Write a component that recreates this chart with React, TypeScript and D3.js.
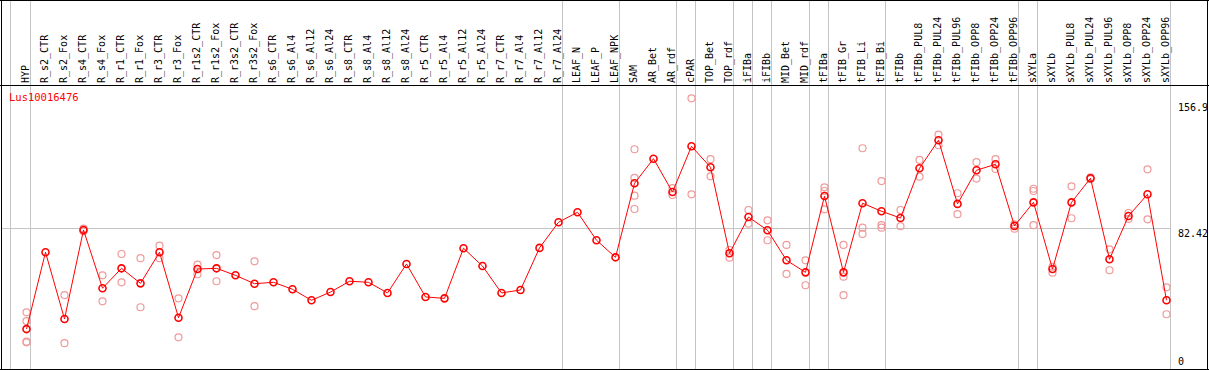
import { useRef, useEffect } from "react";
import * as d3 from "d3";

// sample names, left to right
const categories = [
  "HYP", "R_s2_CTR", "R_s2_Fox", "R_s4_CTR", "R_s4_Fox", "R_r1_CTR", "R_r1_Fox",
  "R_r3_CTR", "R_r3_Fox", "R_r1s2_CTR", "R_r1s2_Fox", "R_r3s2_CTR", "R_r3s2_Fox",
  "R_s6_CTR", "R_s6_Al4", "R_s6_Al12", "R_s6_Al24", "R_s8_CTR", "R_s8_Al4",
  "R_s8_Al12", "R_s8_Al24", "R_r5_CTR", "R_r5_Al4", "R_r5_Al12", "R_r5_Al24",
  "R_r7_CTR", "R_r7_Al4", "R_r7_Al12", "R_r7_Al24", "LEAF_N", "LEAF_P", "LEAF_NPK",
  "SAM", "AR_Bet", "AR_rdf", "cPAR", "TOP_Bet", "TOP_rdf", "iFIBa", "iFIBb",
  "MID_Bet", "MID_rdf", "tFIBa", "tFIB_Gr", "tFIB_Li", "tFIB_Bi", "tFIBb",
  "tFIBb_PUL8", "tFIBb_PUL24", "tFIBb_PUL96", "tFIBb_OPP8", "tFIBb_OPP24",
  "tFIBb_OPP96", "sXYLa", "sXYLb", "sXYLb_PUL8", "sXYLb_PUL24", "sXYLb_PUL96",
  "sXYLb_OPP8", "sXYLb_OPP24", "sXYLb_OPP96",
];

// mean expression per sample
const means = [
  24.7, 68.7, 30.5, 81.5, 48.1, 59.5, 50.9, 68.7, 31.2, 59.1, 59.5, 55.5, 50.7,
  51.5, 47.5, 41.2, 45.9, 52.1, 51.5, 45.4, 62.0, 43.1, 42.3, 71.0, 60.8,
  45.4, 47.1, 71.2, 85.9, 91.6, 75.6, 65.8,
  108.2, 122.3, 103.2, 129.4, 117.4, 68.1, 88.9, 81.3, 64.1, 57.2,
  100.9, 57.2, 96.8, 92.2, 88.3, 116.8, 132.9, 96.4, 115.7, 119.1, 83.8,
  97.3, 59.1, 97.3, 111.1, 64.7, 89.5, 101.9, 41.2,
];

// single replicates per sample
const replicates = [
  [34.3, 29.3, 17.5, 17.1], [], [44.2, 16.6], [80.8, 82.2], [55.5, 40.6],
  [67.7, 51.5], [65.3, 37.2], [72.5, 65.3], [42.3, 20.0], [61.6, 56.1],
  [67.1, 52.1], [], [63.5, 37.8],
  [], [], [], [], [], [], [], [], [], [], [], [],
  [], [], [], [], [], [], [],
  [127.7, 111.3, 101.1, 93.5], [], [105.4, 101.5], [156.9, 101.9],
  [122.0, 112.2], [70.0, 65.6], [92.9, 85.1], [87.0, 75.6], [72.9, 56.3],
  [64.1, 49.8],
  [105.9, 103.8, 93.3], [72.9, 54.7, 44.1], [128.3, 82.8, 79.2],
  [109.5, 84.3, 82.8], [92.9, 83.6], [121.6, 112.0], [136.1, 130.0],
  [102.5, 90.5], [120.3, 110.9], [122.0, 116.4], [84.7, 82.2],
  [105.1, 103.8, 84.2], [60.4, 57.0], [106.5, 88.2], [110.6, 111.6],
  [70.4, 58.4], [91.2, 87.8], [116.2, 87.6], [48.6, 33.2],
];

// group separators are drawn after these samples
const groupEnds = [
  "HYP", "R_r7_Al24", "LEAF_NPK", "AR_rdf", "cPAR", "TOP_rdf", "iFIBa",
  "iFIBb", "MID_rdf", "tFIBa", "tFIB_Bi", "tFIBb_OPP96", "sXYLa", "sXYLb_OPP96",
];

const yTickValues = [0, 82.42, 156.9];
const geneId = "Lus10016476";

const width = 1209;
const height = 370;
const font = "'DejaVu Sans Mono', monospace";

const App = () => {
  const svgRef = useRef<SVGSVGElement | null>(null);

  useEffect(() => {
    if (!svgRef.current) return;

    const svg = d3.select(svgRef.current);
    svg.selectAll("*").remove();

    const headerY = 85.5;
    const x = d3.scalePoint<string>().domain(categories).range([26.5, 1166.5]);
    const step = x.step();
    const y = d3.scaleLinear().domain([0, 156.9]).range([372.2, 98.3]);
    const plotRight = (x(categories[categories.length - 1]) ?? 0) + 4;

    svg.append("rect").attr("width", width).attr("height", height).attr("fill", "#fff");

    // mid gridline
    svg
      .append("line")
      .attr("x1", 1)
      .attr("x2", plotRight)
      .attr("y1", Math.round(y(yTickValues[1])) + 0.5)
      .attr("y2", Math.round(y(yTickValues[1])) + 0.5)
      .attr("stroke", "#c4c4c4");

    // group separators
    const sepX = [(x(categories[0]) ?? 0) - step + 3, ...groupEnds.map((c) => (x(c) ?? 0) + 4)];
    svg
      .selectAll("line.sep")
      .data(sepX)
      .enter()
      .append("line")
      .attr("class", "sep")
      .attr("x1", (d) => d)
      .attr("x2", (d) => d)
      .attr("y1", 0)
      .attr("y2", height)
      .attr("stroke", "#c4c4c4");

    // frame
    const frame = svg.append("g").attr("stroke", "#000").attr("stroke-width", 1);
    frame.append("line").attr("x1", 0).attr("x2", width).attr("y1", 0.5).attr("y2", 0.5);
    frame.append("line").attr("x1", 0).attr("x2", width).attr("y1", headerY).attr("y2", headerY);
    frame.append("line").attr("x1", 0).attr("x2", width).attr("y1", 369.5).attr("y2", 369.5);
    frame.append("line").attr("x1", 1.5).attr("x2", 1.5).attr("y1", 0).attr("y2", height);
    frame.append("line").attr("x1", 1207.5).attr("x2", 1207.5).attr("y1", 0).attr("y2", height);

    // column labels
    svg
      .selectAll("text.col")
      .data(categories)
      .enter()
      .append("text")
      .attr("class", "col")
      .attr("transform", (d) => `translate(${(x(d) ?? 0) + 2},83) rotate(-90)`)
      .text((d) => d)
      .style("font-family", font)
      .style("font-size", "10px")
      .style("fill", "#000");

    // gene id
    svg
      .append("text")
      .attr("x", 9)
      .attr("y", 101)
      .text(geneId)
      .style("font-family", font)
      .style("font-size", "10.5px")
      .style("fill", "#ff0000");

    // value labels on the right
    const labelOffset = [-7, 8.5, 12.5];
    svg
      .selectAll("text.ytick")
      .data(yTickValues)
      .enter()
      .append("text")
      .attr("class", "ytick")
      .attr("x", 1178)
      .attr("y", (d, i) => Math.min(y(d) + labelOffset[i], 365))
      .text((d) => String(d))
      .style("font-family", font)
      .style("font-size", "10px")
      .style("fill", "#000");

    // replicates
    const reps = replicates.flatMap((vals, i) => vals.map((v) => ({ c: categories[i], v })));
    svg
      .selectAll("circle.rep")
      .data(reps)
      .enter()
      .append("circle")
      .attr("class", "rep")
      .attr("cx", (d) => x(d.c) ?? 0)
      .attr("cy", (d) => y(d.v))
      .attr("r", 3.5)
      .attr("fill", "none")
      .attr("stroke", "#f09a9a")
      .attr("stroke-width", 1.2);

    // mean line
    const line = d3
      .line<number>()
      .x((_, i) => x(categories[i]) ?? 0)
      .y((d) => y(d));
    svg
      .append("path")
      .datum(means)
      .attr("d", line)
      .attr("fill", "none")
      .attr("stroke", "#ff0000")
      .attr("stroke-width", 1);

    svg
      .selectAll("circle.mean")
      .data(means)
      .enter()
      .append("circle")
      .attr("class", "mean")
      .attr("cx", (_, i) => x(categories[i]) ?? 0)
      .attr("cy", (d) => y(d))
      .attr("r", 3.5)
      .attr("fill", "none")
      .attr("stroke", "#ff0000")
      .attr("stroke-width", 1.6);
  }, []);

  return (
    <svg
      ref={svgRef}
      width={width}
      height={height}
      style={{ position: "absolute", left: 0, top: 0 }}
    ></svg>
  );
};

export default App;
